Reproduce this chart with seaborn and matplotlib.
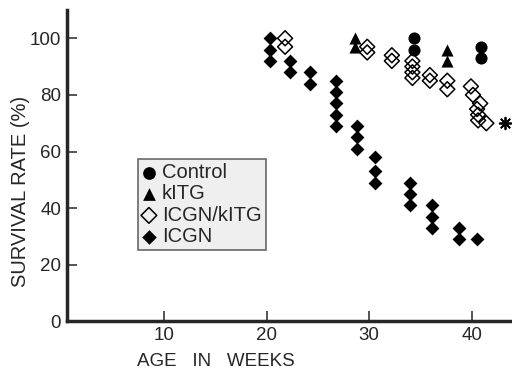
import matplotlib
matplotlib.use('agg')
import matplotlib.pyplot as plt
import seaborn as sns
import pandas as pd

# survival data (age in weeks, survival rate %)
control_weeks = [34.4, 34.4, 40.9, 40.9]
control_rate = [100, 96, 97, 93]

kitg_weeks = [28.6, 28.6, 37.6, 37.6]
kitg_rate = [100, 97, 96, 92]

icgn_kitg_weeks = [21.8, 21.8, 29.8, 29.8, 32.2, 32.2, 34.2, 34.2, 34.2, 34.2,
                   35.9, 35.9, 37.6, 37.6, 39.9, 40.1, 40.8, 40.5, 40.6, 40.6, 41.4]
icgn_kitg_rate = [100, 97, 97, 95, 94, 92, 92, 90, 88, 86,
                  87, 85, 85, 82, 83, 80, 77, 75, 73, 71, 70]

icgn_weeks = [20.3, 20.3, 20.3, 22.3, 22.3, 24.2, 24.2,
              26.8, 26.8, 26.8, 26.8, 26.8, 28.8, 28.8, 28.8,
              30.6, 30.6, 30.6, 34.0, 34.0, 34.0, 36.1, 36.1, 36.1,
              38.7, 38.7, 40.5]
icgn_rate = [100, 96, 92, 92, 88, 88, 84,
             85, 81, 77, 73, 69, 69, 65, 61,
             58, 53, 49, 49, 45, 41, 41, 37, 33,
             33, 29, 29]

# significance mark next to the ICGN/kITG group
star_week, star_rate = 43.2, 70

x_ticks = [10, 20, 30, 40]
y_ticks = [0, 20, 40, 60, 80, 100]

sns.set_style('ticks')
plt.rcParams['font.family'] = ['Liberation Sans', 'DejaVu Sans']

fig = plt.figure(figsize=(5.12, 3.69), dpi=100)
ax = fig.add_axes([0.130, 0.129, 0.870, 0.844])

sns.scatterplot(x=control_weeks, y=control_rate, marker='o', s=76, color='black',
                linewidth=0, label='Control', ax=ax, zorder=3)
sns.scatterplot(x=kitg_weeks, y=kitg_rate, marker='^', s=76, color='black',
                linewidth=0, label='kITG', ax=ax, zorder=3)
sns.scatterplot(x=icgn_kitg_weeks, y=icgn_kitg_rate, marker='D', s=58,
                facecolor='none', edgecolor='black', linewidth=1.1,
                label='ICGN/kITG', ax=ax, zorder=3)
sns.scatterplot(x=icgn_weeks, y=icgn_rate, marker='D', s=50, color='black',
                linewidth=0, label='ICGN', ax=ax, zorder=3)
ax.scatter([star_week], [star_rate], marker=(8, 2, 0), s=70, color='black',
           linewidth=1.3, clip_on=False)

ax.set_xlim(0.52, 43.9)
ax.set_ylim(0, 110)
ax.set_xticks(x_ticks)
ax.set_yticks(y_ticks)
ax.tick_params(direction='in', length=7, width=1.1, labelsize=13.5, pad=4)

for side in ['top', 'right']:
    ax.spines[side].set_visible(False)
for side in ['left', 'bottom']:
    ax.spines[side].set_linewidth(2.5)

ax.set_xlabel('AGE   IN   WEEKS', fontsize=13.5)
ax.xaxis.set_label_coords(0.335, -0.10)
ax.set_ylabel('SURVIVAL RATE (%)', fontsize=14.5)
ax.yaxis.set_label_coords(-0.082, 0.417)

leg = ax.legend(loc='upper left', bbox_to_anchor=(0.16, 0.522), fontsize=14.5,
                frameon=True, fancybox=False, borderpad=0.2, labelspacing=0.12,
                handlelength=0.7, handletextpad=0.3, borderaxespad=0,
                markerscale=1.05)
leg.get_frame().set_facecolor('#ececec')
leg.get_frame().set_edgecolor('#444444')
leg.get_frame().set_linewidth(1.2)

fig.savefig('out.png', dpi=100)
